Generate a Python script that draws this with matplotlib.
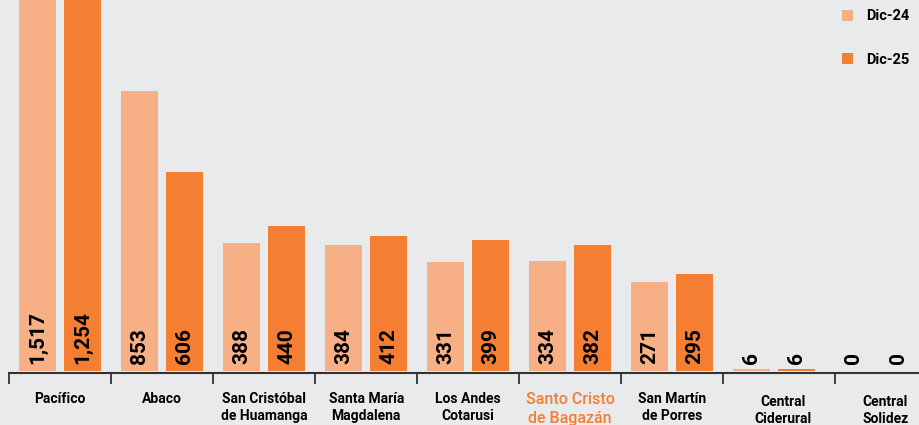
import matplotlib
matplotlib.use('Agg')
import numpy as np
import matplotlib.pyplot as plt
from matplotlib.ticker import FixedLocator
from matplotlib.transforms import ScaledTranslation

categories = ['Pacífico', 'Abaco', 'San Cristóbal\nde Huamanga', 'Santa María\nMagdalena',
              'Los Andes\nCotarusi', 'Santo Cristo\nde Bagazán', 'San Martín\nde Porres',
              'Central\nCiderural', 'Central\nSolidez']
dic24 = [1517, 853, 388, 384, 331, 334, 271, 6, 0]
dic25 = [1254, 606, 440, 412, 399, 382, 295, 6, 0]
series_names = ['Dic-24', 'Dic-25']

bg = '#e9eaec'
light = '#f7b085'
dark = '#f47f32'

plt.rcParams['font.family'] = ['Roboto', 'DejaVu Sans']

fig = plt.figure(figsize=(9.2, 4.25), dpi=100, facecolor=bg)
ax = fig.add_axes([9.2 / 920, (425 - 372.7) / 425, 918 / 920, 372.7 / 425])
ax.set_facecolor(bg)

x = np.arange(len(categories))
off = 0.223
w = 0.363
ax.bar(x - off, dic24, w, color=light, label=series_names[0])
ax.bar(x + off, dic25, w, color=dark, label=series_names[1])

for xs, vals in ((x - off, dic24), (x + off, dic25)):
    for xi, v in zip(xs, vals):
        ax.text(xi, 19, f'{v:,}', rotation=90, ha='center', va='bottom',
                fontsize=15, fontweight='bold', color='black')

ax.set_xlim(-0.5, len(categories) - 0.5)
ax.set_ylim(-6, 1130)

for s in ['top', 'right', 'left']:
    ax.spines[s].set_visible(False)
ax.spines['bottom'].set_color('#333333')
ax.spines['bottom'].set_linewidth(1.5)
ax.set_yticks([])

ax.set_xticks(x)
ax.set_xticklabels(categories, fontsize=10, fontweight='bold', linespacing=1.3)
ax.tick_params(axis='x', which='major', length=0, pad=14)
edges = list(np.arange(-0.5, len(categories) - 1, 1))
edges[-1] += 0.1
ax.xaxis.set_minor_locator(FixedLocator(edges))
ax.tick_params(axis='x', which='minor', length=8, width=1.3, color='#333333')
for lab in ax.get_xticklabels():
    lab.set_verticalalignment('top')
    txt = lab.get_text()
    if txt.startswith('Santo Cristo'):
        lab.set_color(dark)
        lab.set_fontsize(11.5)
        lab.set_fontweight('medium')
    if txt.startswith('Central'):
        lab.set_transform(lab.get_transform() + ScaledTranslation(9 / 100, -3 / 100, fig.dpi_scale_trans))

ax.legend(loc='upper left', bbox_to_anchor=(820 / 918, 1.01), frameon=False,
          handlelength=0.75, handleheight=0.75, handletextpad=0.9, labelspacing=2.0,
          prop={'weight': 'bold', 'size': 10.5})

fig.savefig('out.png', dpi=100, facecolor=bg)
